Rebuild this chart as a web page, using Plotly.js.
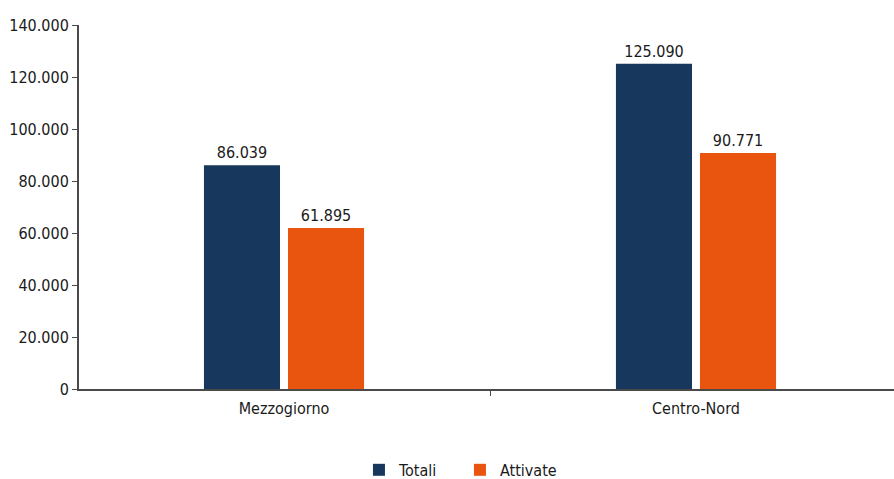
<!DOCTYPE html>
<html>
<head>
<meta charset="utf-8">
<script src="https://cdn.plot.ly/plotly-3.0.1.min.js"></script>
<style>
  html, body { margin: 0; padding: 0; background: #fff; }
  #chart { width: 894px; height: 479px; }
</style>
</head>
<body>
<div id="chart"></div>
<script>
// Ripartizioni territoriali
const categories = ['Mezzogiorno', 'Centro-Nord'];
const totali = [86039, 125090];
const attivate = [61895, 90771];
const seriesNames = ['Totali', 'Attivate'];
const tickValues = [0, 20000, 40000, 60000, 80000, 100000, 120000, 140000];

const FONT = '"DejaVu Sans Condensed", "DejaVu Sans", sans-serif';

// Italian thousands separator: 86039 -> "86.039"
function fmt(v) {
  return String(v).replace(/\B(?=(\d{3})+(?!\d))/g, '.');
}

const labelFont = { family: FONT, size: 16, color: '#1a1a1a' };

function barTrace(name, values, color) {
  return {
    type: 'bar', name: name, x: categories, y: values,
    marker: { color: color, line: { width: 0 } },
    text: values.map(fmt), textposition: 'outside', cliponaxis: false,
    textfont: labelFont, hoverinfo: 'none'
  };
}

const traces = [
  barTrace(seriesNames[0], totali, '#17375c'),
  barTrace(seriesNames[1], attivate, '#e9540f')
];

const layout = {
  width: 894, height: 479,
  margin: { l: 79, r: 0, t: 25, b: 90, autoexpand: false },
  paper_bgcolor: '#fff', plot_bgcolor: '#fff',
  font: labelFont,
  barmode: 'group', bargap: 0.592, bargroupgap: 0.095,
  showlegend: true,
  legend: {
    orientation: 'h', x: 0.3435, xanchor: 'left',
    yref: 'container', y: 0.019, yanchor: 'middle',
    font: labelFont, entrywidth: 56, entrywidthmode: 'pixels',
    itemwidth: 30, traceorder: 'normal'
  },
  xaxis: {
    type: 'category', range: [-0.4976, 1.4806],
    showline: true, linecolor: '#4a4a4a', linewidth: 2,
    ticks: 'outside', tickson: 'boundaries', ticklen: 5, tickcolor: '#4a4a4a', tickwidth: 1,
    ticklabelstandoff: 4, automargin: false,
    showgrid: false, zeroline: false, fixedrange: true,
    tickfont: labelFont
  },
  yaxis: {
    range: [0, 140000], tickvals: tickValues, ticktext: tickValues.map(fmt),
    showline: true, linecolor: '#4a4a4a', linewidth: 2,
    ticks: 'outside', ticklen: 5, tickcolor: '#4a4a4a', tickwidth: 1,
    automargin: false,
    showgrid: false, zeroline: false, fixedrange: true,
    tickfont: labelFont
  }
};

Plotly.newPlot('chart', traces, layout, { displayModeBar: false, staticPlot: true });
</script>
</body>
</html>
